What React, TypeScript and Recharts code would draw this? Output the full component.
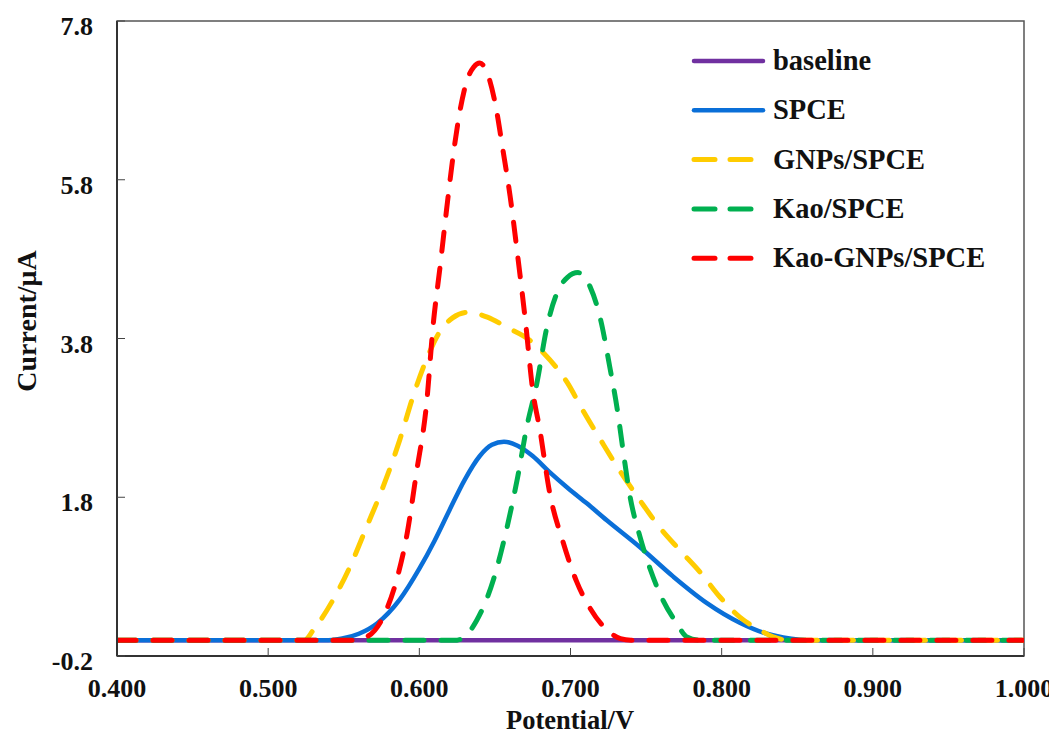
import React from "react"
import {
  LineChart,
  Line,
  XAxis,
  YAxis,
  Legend,
  ReferenceArea,
} from "recharts"

// potential (V) / current (uA) pairs
const baseline = [
  [0.4, 0],
  [1.0, 0],
]

const spce = [
  [0.4, 0], [0.54, 0], [0.549, 0.02], [0.56, 0.08], [0.572, 0.21], [0.587, 0.51],
  [0.6, 0.9], [0.61, 1.25], [0.62, 1.64], [0.63, 2.02], [0.64, 2.32],
  [0.648, 2.46], [0.656, 2.5], [0.665, 2.45], [0.675, 2.32], [0.686, 2.12],
  [0.698, 1.92], [0.711, 1.72], [0.724, 1.51], [0.746, 1.17], [0.768, 0.8],
  [0.79, 0.47], [0.812, 0.22], [0.83, 0.08], [0.845, 0.02], [0.855, 0], [1.0, 0],
]

const gnps = [
  [0.4, 0], [0.524, 0], [0.53, 0.13], [0.543, 0.51], [0.554, 0.92], [0.565, 1.42],
  [0.576, 1.93], [0.587, 2.52], [0.596, 3.08], [0.605, 3.55], [0.614, 3.9],
  [0.622, 4.06], [0.632, 4.13], [0.645, 4.07], [0.658, 3.94], [0.673, 3.78],
  [0.682, 3.62], [0.698, 3.24], [0.708, 2.9], [0.72, 2.52], [0.731, 2.18],
  [0.746, 1.76], [0.759, 1.42], [0.772, 1.14], [0.786, 0.85], [0.799, 0.54],
  [0.812, 0.29], [0.825, 0.13], [0.834, 0.04], [0.845, 0], [1.0, 0],
]

const kao = [
  [0.4, 0], [0.625, 0], [0.629, 0.03], [0.638, 0.25], [0.649, 0.76], [0.658, 1.42],
  [0.665, 2.05], [0.671, 2.68], [0.678, 3.26], [0.684, 3.91], [0.691, 4.37],
  [0.698, 4.57], [0.705, 4.63], [0.713, 4.45], [0.72, 4.03], [0.726, 3.44],
  [0.731, 2.9], [0.735, 2.36], [0.739, 1.85], [0.746, 1.3], [0.753, 0.88],
  [0.761, 0.51], [0.77, 0.22], [0.777, 0.04], [0.785, 0], [1.0, 0],
]

const kaoGnps = [
  [0.4, 0], [0.556, 0], [0.565, 0.04], [0.576, 0.29], [0.585, 0.76], [0.592, 1.35],
  [0.598, 2.1], [0.605, 3.02], [0.609, 3.94], [0.614, 4.75], [0.618, 5.42],
  [0.622, 6.05], [0.627, 6.68], [0.631, 7.02], [0.636, 7.22], [0.64, 7.27],
  [0.645, 7.14], [0.651, 6.68], [0.655, 6.21], [0.66, 5.6], [0.665, 4.85],
  [0.67, 4.05], [0.675, 3.15], [0.68, 2.62], [0.686, 1.88], [0.695, 1.24],
  [0.704, 0.74], [0.713, 0.4], [0.724, 0.13], [0.733, 0.02], [0.74, 0], [1.0, 0],
]

const xTicks = [0.4, 0.5, 0.6, 0.7, 0.8, 0.9, 1.0]
const yTicks = [-0.2, 1.8, 3.8, 5.8, 7.8]

const toPoints = (pairs: number[][]) => pairs.map(([x, y]) => ({ x, y }))

const series = [
  { name: "baseline", data: baseline, color: "#7030A0", dash: undefined },
  { name: "SPCE", data: spce, color: "#0A6FD8", dash: undefined },
  { name: "GNPs/SPCE", data: gnps, color: "#FFCC00", dash: "19 17" },
  { name: "Kao/SPCE", data: kao, color: "#00B050", dash: "19 17" },
  { name: "Kao-GNPs/SPCE", data: kaoGnps, color: "#FF0000", dash: "19 17" },
]

const font = "'Liberation Serif', 'Times New Roman', serif"

const XTick = ({ x, y, payload }: any) => (
  <text x={x} y={y + 41} textAnchor="middle" fontFamily={font} fontWeight="bold" fontSize={26} fill="#111">
    {Number(payload.value).toFixed(3)}
  </text>
)

const YTick = ({ x, y, payload }: any) => (
  <text x={x - 24} y={y + 14} textAnchor="end" fontFamily={font} fontWeight="bold" fontSize={26} fill="#111">
    {Number(payload.value).toFixed(1)}
  </text>
)

const renderLegend = () => (
  <svg width={370} height={250}>
    {series.map((s, i) => {
      const cy = 25 + i * 49.3
      return (
        <g key={s.name}>
          {s.dash ? (
            <line x1={16} x2={73} y1={cy} y2={cy} stroke={s.color} strokeWidth={5} strokeDasharray="21 15" strokeLinecap="round" />
          ) : (
            <line x1={16} x2={85} y1={cy} y2={cy} stroke={s.color} strokeWidth={4.5} strokeLinecap="round" />
          )}
          <text x={95} y={cy + 9} fontFamily={font} fontWeight="bold" fontSize={28.5} fill="#111">
            {s.name}
          </text>
        </g>
      )
    })}
  </svg>
)

export default function App() {
  return (
    <LineChart width={1049} height={726} margin={{ top: 13, right: 33, bottom: 0, left: 29 }}>
      <XAxis
        type="number"
        dataKey="x"
        domain={[0.4, 1.0]}
        ticks={xTicks}
        interval={0}
        allowDataOverflow
        height={78}
        axisLine={{ stroke: "#333", strokeWidth: 2 }}
        tickLine={{ stroke: "#444", strokeWidth: 1 }}
        tickSize={-8}
        tickMargin={8}
        tick={<XTick />}
        label={() => (
          <text x={562} y={721} textAnchor="middle" fontFamily={font} fontWeight="bold" fontSize={26.5} fill="#111">
            Potential/V
          </text>
        )}
      />
      <YAxis
        type="number"
        domain={[-0.2, 7.8]}
        ticks={yTicks}
        interval={0}
        allowDataOverflow
        width={80}
        axisLine={{ stroke: "#333", strokeWidth: 2 }}
        tickLine={{ stroke: "#444", strokeWidth: 1 }}
        tickSize={-8}
        tickMargin={8}
        tick={<YTick />}
        label={() => (
          <text
            x={28}
            y={313}
            transform="rotate(-90, 28, 313)"
            textAnchor="middle"
            fontFamily={font}
            fontWeight="bold"
            fontSize={28}
            fill="#111"
          >
            Current/μA
          </text>
        )}
      />
      <ReferenceArea x1={0.4} x2={1.0} y1={-0.2} y2={7.8} fill="none" stroke="#555" strokeWidth={1.5} />
      {series.map((s) => (
        <Line
          key={s.name}
          name={s.name}
          data={toPoints(s.data)}
          dataKey="y"
          type="monotone"
          stroke={s.color}
          strokeWidth={s.dash ? 5 : 4.5}
          strokeDasharray={s.dash}
          strokeLinecap="round"
          dot={false}
          activeDot={false}
          isAnimationActive={false}
        />
      ))}
      <Legend
        layout="vertical"
        align="center"
        verticalAlign="middle"
        wrapperStyle={{ left: 670, top: 28, width: 370, height: 250 }}
        content={renderLegend}
      />
    </LineChart>
  )
}
